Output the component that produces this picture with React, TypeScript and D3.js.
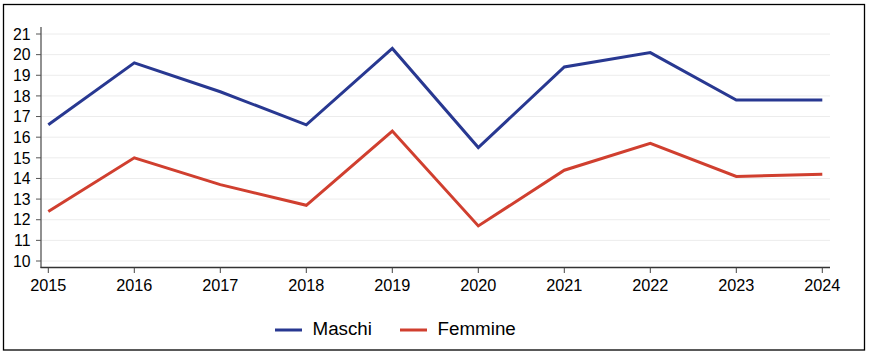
import React from "react";
import * as d3 from "d3";

const years = [2015, 2016, 2017, 2018, 2019, 2020, 2021, 2022, 2023, 2024];
const maschi = [16.6, 19.6, 18.2, 16.6, 20.3, 15.5, 19.4, 20.1, 17.8, 17.8];
const femmine = [12.4, 15.0, 13.7, 12.7, 16.3, 11.7, 14.4, 15.7, 14.1, 14.2];
const yTicks = [10, 11, 12, 13, 14, 15, 16, 17, 18, 19, 20, 21];
const seriesNames = ["Maschi", "Femmine"];
const colors = ["#283891", "#d03f2f"];

export default function App() {
  const W = 869, H = 356;
  const x = d3.scaleLinear().domain([2015, 2024]).range([48.3, 822.3]);
  const y = d3.scaleLinear().domain([10, 21]).range([261, 34]);
  const line = d3.line<number>().x((_, i) => x(years[i])).y((d) => y(d));
  const font = "'Liberation Sans', Arial, sans-serif";
  const series = [maschi, femmine];
  return (
    <svg width={W} height={H} style={{ position: "absolute", left: 0, top: 0, background: "#fff" }} fontFamily={font}>
      <rect x={3.5} y={4.5} width={861} height={345.5} fill="#fff" stroke="#000" strokeWidth={1.3} />
      {yTicks.map((t) => (
        <g key={t}>
          <line x1={41} x2={830} y1={y(t)} y2={y(t)} stroke="#ececec" strokeWidth={1} />
          <line x1={36} x2={41} y1={y(t)} y2={y(t)} stroke="#555" strokeWidth={1} />
          <text x={30.5} y={y(t)} dy="0.36em" textAnchor="end" fontSize={15.8} fill="#000">{t}</text>
        </g>
      ))}
      <line x1={41} x2={41} y1={27} y2={268} stroke="#555" strokeWidth={1.3} />
      <line x1={40.5} x2={830} y1={267.5} y2={267.5} stroke="#333" strokeWidth={1.3} />
      {years.map((yr) => (
        <g key={yr}>
          <line x1={x(yr)} x2={x(yr)} y1={267.5} y2={273} stroke="#444" strokeWidth={1} />
          <text x={x(yr)} y={291} textAnchor="middle" fontSize={16.3} fill="#000">{yr}</text>
        </g>
      ))}
      {series.map((s, i) => (
        <path key={i} d={line(s) || ""} fill="none" stroke={colors[i]} strokeWidth={3} strokeLinejoin="miter" />
      ))}
      {seriesNames.map((n, i) => {
        const lx = i === 0 ? 275 : 400;
        return (
          <g key={n}>
            <line x1={lx} x2={lx + 27} y1={330} y2={330} stroke={colors[i]} strokeWidth={3} />
            <text x={lx + 37.5} y={335} fontSize={18.8} fill="#000">{n}</text>
          </g>
        );
      })}
    </svg>
  );
}
